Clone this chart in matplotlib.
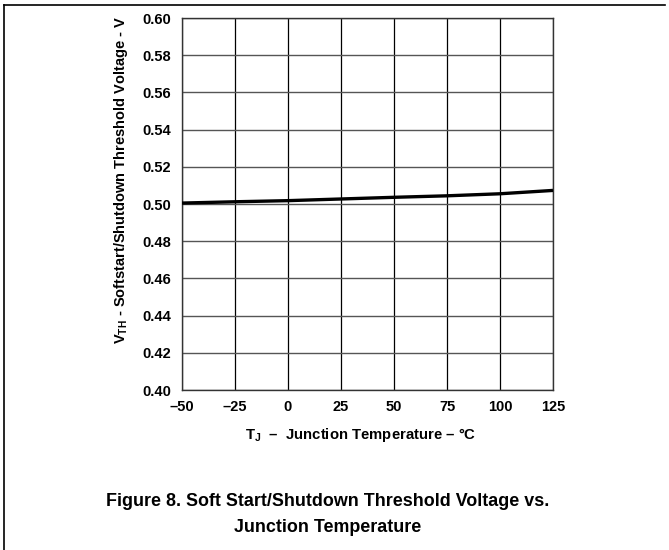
import matplotlib
matplotlib.use("Agg")
import matplotlib.pyplot as plt
from matplotlib.lines import Line2D

# data
temps = [-50, -25, 0, 25, 50, 75, 100, 125]
vth = [0.5005, 0.5012, 0.5018, 0.5027, 0.5036, 0.5044, 0.5055, 0.5073]
x_ticks = [-50, -25, 0, 25, 50, 75, 100, 125]
y_ticks = [0.40, 0.42, 0.44, 0.46, 0.48, 0.50, 0.52, 0.54, 0.56, 0.58, 0.60]

plt.rcParams["font.family"] = ["Liberation Sans", "DejaVu Sans"]
plt.rcParams["font.weight"] = "bold"
plt.rcParams["mathtext.fontset"] = "custom"
plt.rcParams["mathtext.rm"] = "Liberation Sans:bold"
plt.rcParams["mathtext.bf"] = "Liberation Sans:bold"

fig = plt.figure(figsize=(6.69, 5.5), dpi=100, facecolor="white")
ax = fig.add_axes([182 / 669, 160 / 550, 371 / 669, 372 / 550])

ax.plot(temps, vth, color="black", lw=2.4, solid_capstyle="butt", zorder=3)

ax.set_xlim(-50, 125)
ax.set_ylim(0.40, 0.60)
ax.set_xticks(x_ticks)
ax.set_yticks(y_ticks)
ax.set_xticklabels([str(t).replace("-", "\u2013") for t in x_ticks])
ax.set_yticklabels([f"{v:.2f}" for v in y_ticks])
ax.tick_params(length=0, labelsize=10.5)
ax.tick_params(axis="x", pad=7.5)
ax.tick_params(axis="y", pad=8)
for lab in ax.get_xticklabels() + ax.get_yticklabels():
    lab.set_fontweight("bold")

ax.xaxis.grid(True, color="black", lw=0.9)
ax.yaxis.grid(True, color="#555555", lw=1.0)
ax.set_axisbelow(True)
for sp in ax.spines.values():
    sp.set_color("#333333")
    sp.set_linewidth(1.0)

ax.set_xlabel("T$_{\\mathrm{J}}$  \u2013  Junction Temperature \u2013 \u00b0C",
              fontsize=10.7, fontweight="bold")
ax.set_ylabel("V$_{\\mathrm{TH}}$ - Softstart/Shutdown Threshold Voltage - V",
              fontsize=10.5, fontweight="bold")
ax.xaxis.set_label_coords(0.4825, -0.098)
ax.yaxis.set_label_coords(-0.14, 0.565)

fig.text(0.49, 1 - 501 / 550, "Figure 8. Soft Start/Shutdown Threshold Voltage vs.",
         ha="center", va="center", fontsize=12.9, fontweight="bold")
fig.text(0.49, 1 - 528 / 550, "Junction Temperature",
         ha="center", va="center", fontsize=12.9, fontweight="bold")

# page frame lines
fig.add_artist(Line2D([4 / 669, 665 / 669], [1 - 5 / 550, 1 - 5 / 550], color="black", lw=1.2))
fig.add_artist(Line2D([4 / 669, 4 / 669], [0, 1 - 5 / 550], color="black", lw=1.2))

fig.savefig("out.png", dpi=100)
